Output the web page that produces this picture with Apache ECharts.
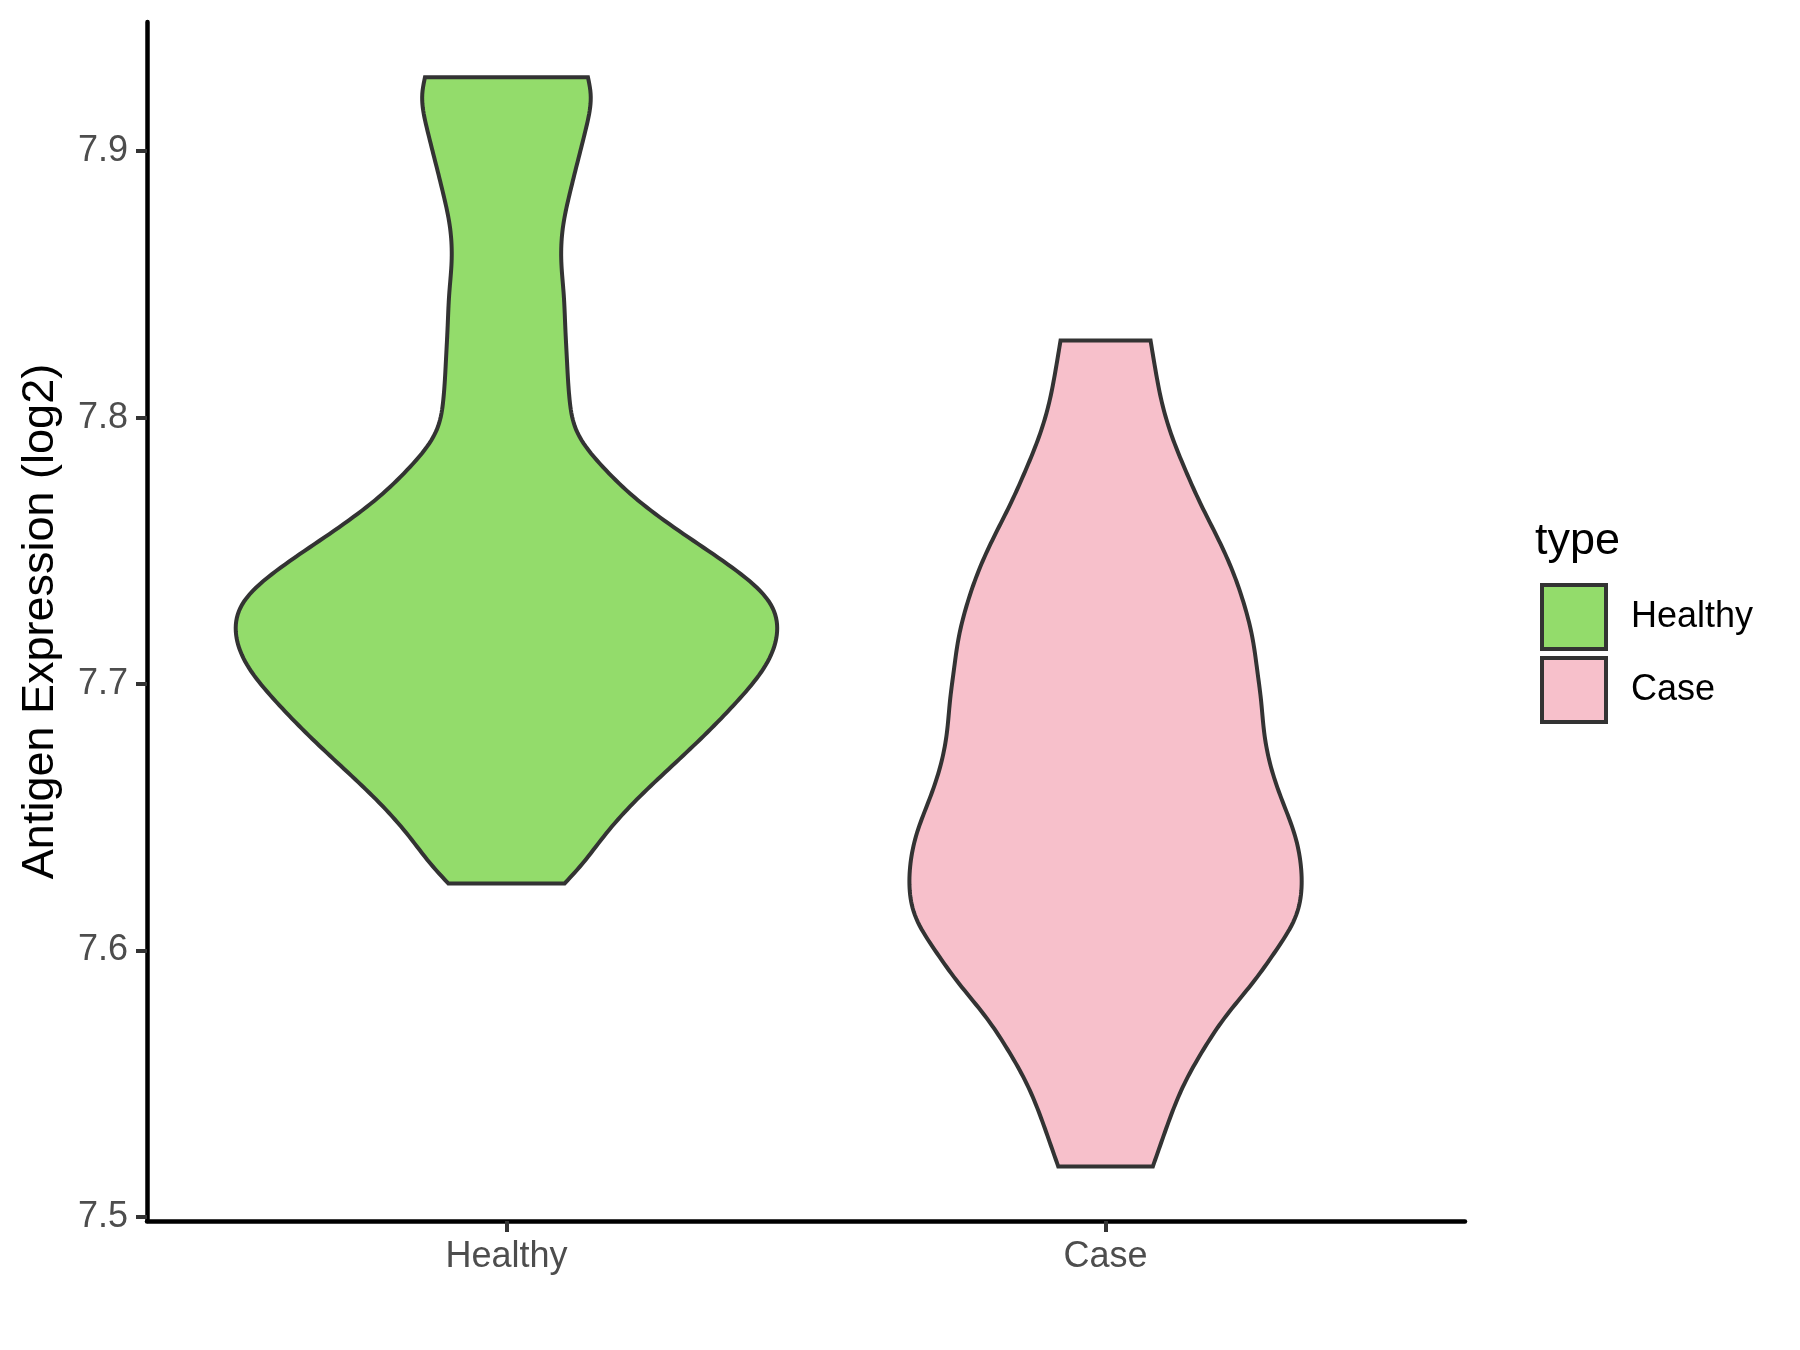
<!DOCTYPE html>
<html>
<head>
<meta charset="utf-8">
<title>Antigen Expression</title>
<script src="https://cdn.jsdelivr.net/npm/echarts@6/dist/echarts.min.js"></script>
<style>
  html, body { margin: 0; padding: 0; background: #fff; }
  #chart { width: 1800px; height: 1350px; }
</style>
</head>
<body>
<div id="chart"></div>
<script>
var categories = ['Healthy', 'Case'];
var fillColors = ['#93DC6B', '#F7C0CB'];
var yTicks = [7.5, 7.6, 7.7, 7.8, 7.9];

// violin outlines: value -> half width (category units)
var healthyY = [7.6252, 7.6314, 7.6440, 7.6565, 7.6690, 7.6815, 7.6940, 7.7065, 7.7190, 7.7315, 7.7440,
  7.7565, 7.7690, 7.7815, 7.7940, 7.8065, 7.8215, 7.8340, 7.8465, 7.8590, 7.8715, 7.8840, 7.8965,
  7.9090, 7.9215, 7.9278];
var healthyW = [0.0971, 0.1222, 0.1666, 0.2167, 0.275, 0.3335, 0.387, 0.431, 0.4515, 0.4365, 0.3753,
  0.2946, 0.2195, 0.161, 0.1193, 0.1055, 0.101, 0.0982, 0.0955, 0.0915, 0.0943, 0.1055, 0.1193,
  0.1332, 0.1405, 0.136];

var caseY = [7.5190, 7.5290, 7.5377, 7.5502, 7.5627, 7.5752, 7.5877, 7.6002, 7.6127, 7.6239, 7.6314,
  7.6440, 7.6565, 7.6690, 7.6815, 7.6940, 7.7052, 7.7177, 7.7302, 7.7427, 7.7552, 7.7677, 7.7802,
  7.7927, 7.8052, 7.8177, 7.8290];
var caseW = [0.079, 0.0946, 0.1085, 0.132, 0.163, 0.2003, 0.2449, 0.285, 0.3172, 0.3272, 0.3262,
  0.315, 0.2945, 0.276, 0.265, 0.2595, 0.2532, 0.2449, 0.2309, 0.2115, 0.1864, 0.1586, 0.1336,
  0.1113, 0.0946, 0.0835, 0.0751];

// natural cubic spline of width along the value axis, used only to draw a smooth outline
function naturalSpline(xs, ys) {
  var n = xs.length, h = [], a = [], l = [1], mu = [0], z = [0], b = [], c = [], d = [];
  var i;
  for (i = 0; i < n - 1; i++) h[i] = xs[i + 1] - xs[i];
  for (i = 1; i < n - 1; i++) a[i] = 3 / h[i] * (ys[i + 1] - ys[i]) - 3 / h[i - 1] * (ys[i] - ys[i - 1]);
  for (i = 1; i < n - 1; i++) {
    l[i] = 2 * (xs[i + 1] - xs[i - 1]) - h[i - 1] * mu[i - 1];
    mu[i] = h[i] / l[i];
    z[i] = (a[i] - h[i - 1] * z[i - 1]) / l[i];
  }
  c[n - 1] = 0;
  for (i = n - 2; i >= 0; i--) {
    c[i] = z[i] - mu[i] * c[i + 1];
    b[i] = (ys[i + 1] - ys[i]) / h[i] - h[i] * (c[i + 1] + 2 * c[i]) / 3;
    d[i] = (c[i + 1] - c[i]) / (3 * h[i]);
  }
  return function (x) {
    var j = 0;
    while (j < n - 2 && x > xs[j + 1]) j++;
    var dx = x - xs[j];
    return ys[j] + b[j] * dx + c[j] * dx * dx + d[j] * dx * dx * dx;
  };
}

var profiles = [
  { y: healthyY, f: naturalSpline(healthyY, healthyW) },
  { y: caseY, f: naturalSpline(caseY, caseW) }
];

function renderViolin(params, api) {
  var idx = params.seriesIndex;
  var center = idx + 1;
  var prof = profiles[idx];
  var y0 = prof.y[0], y1 = prof.y[prof.y.length - 1];
  var steps = 240;
  var left = [], right = [];
  for (var k = 0; k <= steps; k++) {
    var v = y0 + (y1 - y0) * k / steps;
    var w = prof.f(v);
    left.push(api.coord([center - w, v]));
    right.push(api.coord([center + w, v]));
  }
  var pts = left.concat(right.reverse());
  return {
    type: 'polygon',
    shape: { points: pts },
    style: { fill: api.visual('color'), stroke: '#333333', lineWidth: 4 }
  };
}

var chart = echarts.init(document.getElementById('chart'));
var font = 'Liberation Sans, Arial, sans-serif';

var option = {
  animation: false,
  backgroundColor: '#ffffff',
  grid: { left: 147, right: 335, top: 22, bottom: 129, outerBoundsMode: 'none' },
  title: {
    text: 'type', left: 1535, top: 519, padding: 0,
    textStyle: { fontSize: 45, fontWeight: 'normal', color: '#000', fontFamily: font }
  },
  legend: {
    orient: 'vertical', left: 1540, top: 583, padding: 0,
    itemWidth: 64, itemHeight: 64, itemGap: 5, icon: 'rect',
    textStyle: { fontSize: 36, color: '#000', fontFamily: font, padding: [0, 0, 0, 20] },
    data: categories.map(function (c, i) {
      return { name: c, itemStyle: { color: fillColors[i], borderColor: '#333333', borderWidth: 4 } };
    })
  },
  xAxis: {
    type: 'value', min: 0.4, max: 2.6,
    splitLine: { show: false },
    axisLine: { show: true, onZero: false, lineStyle: { color: '#000', width: 4.5 } },
    axisTick: { show: true, customValues: [1, 2], length: 11, lineStyle: { color: '#333', width: 4 } },
    axisLabel: {
      customValues: [1, 2], color: '#4D4D4D', fontSize: 36, fontFamily: font, margin: 18,
      formatter: function (v) { return categories[Math.round(v) - 1]; }
    }
  },
  yAxis: {
    type: 'value', min: 7.4985, max: 7.9485,
    name: 'Antigen Expression (log2)', nameLocation: 'middle', nameGap: 84,
    nameTextStyle: { fontSize: 45, color: '#000', fontFamily: font },
    splitLine: { show: false },
    axisLine: { show: true, onZero: false, lineStyle: { color: '#000', width: 4.5 } },
    axisTick: { show: true, customValues: yTicks, length: 11, lineStyle: { color: '#333', width: 4 } },
    axisLabel: {
      customValues: yTicks, color: '#4D4D4D', fontSize: 36, fontFamily: font, margin: 19,
      formatter: function (v) { return v.toFixed(1); }
    }
  },
  series: categories.map(function (c, i) {
    return {
      name: c, type: 'custom', silent: true,
      itemStyle: { color: fillColors[i] },
      encode: { x: 0, y: 1 },
      data: [[i + 1, 7.7]],
      renderItem: renderViolin
    };
  })
};

chart.setOption(option);
</script>
</body>
</html>
